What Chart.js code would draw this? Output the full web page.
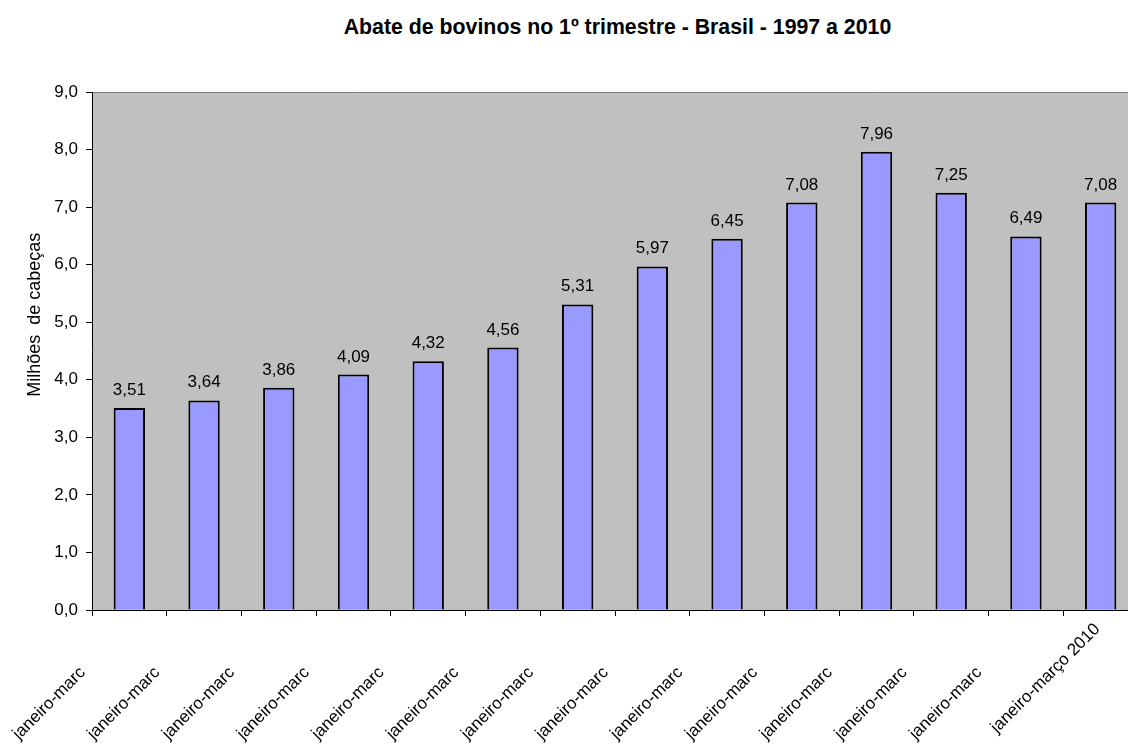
<!DOCTYPE html>
<html lang="pt-BR">
<head>
<meta charset="utf-8">
<script src="https://cdn.jsdelivr.net/npm/chart.js@4/dist/chart.umd.min.js"></script>
<style>
    html, body { margin: 0; padding: 0; background: #fff; overflow: hidden; }
    #wrap { position: relative; width: 1128px; height: 745px; overflow: hidden; }
    #chartTitle {
        position: absolute; left: 0; top: 15px; width: 1235px;
        text-align: center; font: bold 21.3px Arial, "Liberation Sans", sans-serif; color: #000;
    }
    #abate { position: absolute; left: 0; top: 0; }
</style>
</head>
<body>
<div id="wrap">
    <div id="chartTitle">Abate de bovinos no 1º trimestre - Brasil - 1997 a 2010</div>
    <canvas id="abate" width="1140" height="745"></canvas>
</div>
<script>
// dados (milhões de cabeças)
const categories = [
    'janeiro-março 1997', 'janeiro-março 1998', 'janeiro-março 1999', 'janeiro-março 2000',
    'janeiro-março 2001', 'janeiro-março 2002', 'janeiro-março 2003', 'janeiro-março 2004',
    'janeiro-março 2005', 'janeiro-março 2006', 'janeiro-março 2007', 'janeiro-março 2008',
    'janeiro-março 2009', 'janeiro-março 2010'
];
const abate = [3.51, 3.64, 3.86, 4.09, 4.32, 4.56, 5.31, 5.97, 6.45, 7.08, 7.96, 7.25, 6.49, 7.08];
const yTitle = 'Milhões  de cabeças';

const FONT = 'Arial, "Liberation Sans", sans-serif';
const fmt = (v, d) => v.toFixed(d).replace('.', ',');

// fundo cinza da área de plotagem + linha superior
const plotBg = {
    id: 'plotBg',
    beforeDraw(chart) {
        const { ctx, chartArea: a } = chart;
        ctx.save();
        ctx.fillStyle = '#C0C0C0';
        ctx.fillRect(a.left, a.top, a.right - a.left, a.bottom - a.top);
        ctx.strokeStyle = '#808080';
        ctx.lineWidth = 1;
        ctx.beginPath();
        ctx.moveTo(a.left, a.top + 0.5);
        ctx.lineTo(a.right, a.top + 0.5);
        ctx.stroke();
        ctx.restore();
    }
};

// rótulos de valor acima das barras
const valueLabels = {
    id: 'valueLabels',
    afterDatasetsDraw(chart) {
        const { ctx } = chart;
        const meta = chart.getDatasetMeta(0);
        ctx.save();
        ctx.font = '17px ' + FONT;
        ctx.fillStyle = '#000';
        ctx.textAlign = 'center';
        ctx.textBaseline = 'alphabetic';
        meta.data.forEach((bar, i) => {
            ctx.fillText(fmt(abate[i], 2), bar.x, bar.y - 13);
        });
        ctx.restore();
    }
};

// título do eixo Y (um pouco acima do centro, como no original)
const yAxisTitle = {
    id: 'yAxisTitle',
    afterDraw(chart) {
        const { ctx, chartArea: a } = chart;
        ctx.save();
        ctx.font = '18px ' + FONT;
        ctx.fillStyle = '#000';
        ctx.textAlign = 'center';
        ctx.textBaseline = 'middle';
        ctx.translate(35, a.top + (a.bottom - a.top) * 0.43);
        ctx.rotate(-Math.PI / 2);
        ctx.fillText(yTitle, 0, 0);
        ctx.restore();
    }
};

new Chart(document.getElementById('abate'), {
    type: 'bar',
    data: {
        labels: categories,
        datasets: [{
            data: abate,
            backgroundColor: '#9999FF',
            borderColor: '#000',
            borderWidth: 2,
            barPercentage: 0.42,
            categoryPercentage: 1
        }]
    },
    options: {
        responsive: false,
        animation: false,
        layout: { padding: { top: 92, left: 0, right: 2, bottom: 0 } },
        plugins: {
            legend: { display: false },
            tooltip: { enabled: false }
        },
        scales: {
            x: {
                afterFit: (scale) => { scale.height = 135; },
                grid: { offset: true, drawOnChartArea: false, drawTicks: true, tickLength: 6, color: '#000' },
                border: { color: '#000', width: 1 },
                ticks: {
                    autoSkip: false,
                    minRotation: 45,
                    maxRotation: 45,
                    padding: 0,
                    color: '#000',
                    font: { family: FONT, size: 17 },
                    // no original os rótulos aparecem cortados (menos o último)
                    callback: function (value, index) {
                        const label = this.getLabelForValue(value);
                        const pad = '\u00A0';
                        if (index === categories.length - 1) return label + pad;
                        return label.slice(0, 11) + 'c' + '\u00A0'.repeat(13) + pad;
                    }
                }
            },
            y: {
                min: 0,
                max: 9,
                afterFit: (scale) => { scale.width = 92; },
                grid: { drawOnChartArea: false, drawTicks: true, tickLength: 6, color: '#000' },
                border: { color: '#000', width: 1 },
                ticks: {
                    stepSize: 1,
                    padding: 8,
                    color: '#000',
                    font: { family: FONT, size: 17 },
                    callback: (v) => fmt(v, 1)
                }
            }
        }
    },
    plugins: [plotBg, valueLabels, yAxisTitle]
});
</script>
</body>
</html>
